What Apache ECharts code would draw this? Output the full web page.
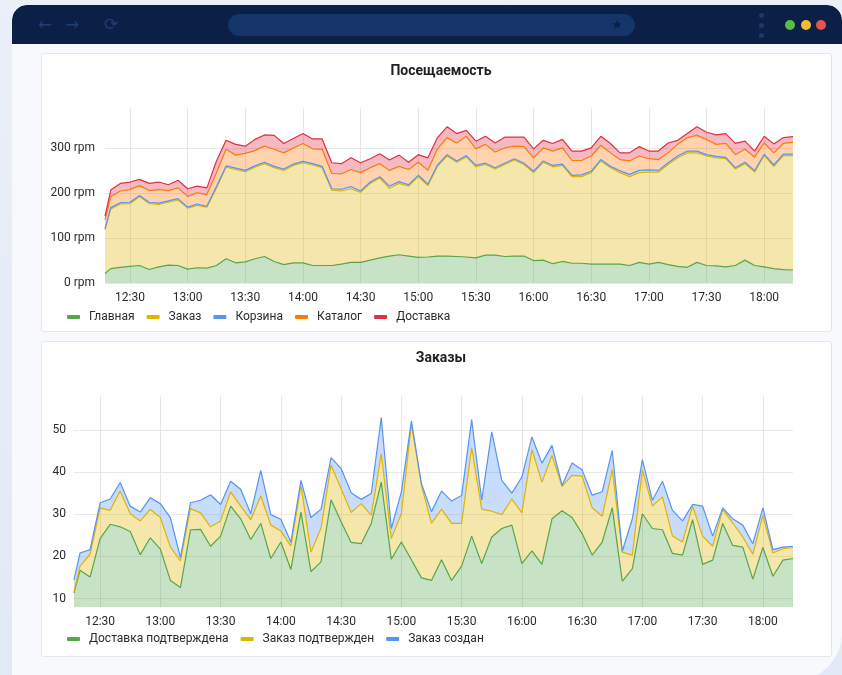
<!DOCTYPE html>
<html>
<head>
<meta charset="utf-8">
<script src="https://cdn.jsdelivr.net/npm/echarts@6/dist/echarts.min.js"></script>
<style>
  html, body { margin: 0; padding: 0; }
  body {
    width: 842px; height: 675px; overflow: hidden; position: relative;
    background: linear-gradient(180deg, #eaeff8 0%, #e2e9f6 100%);
    font-family: Roboto, "Noto Sans", sans-serif;
  }
  .win {
    position: absolute; left: 12px; top: 5px; width: 830px; height: 677px;
    background: #f7f9fc; border-radius: 15px 15px 50px 0;
    overflow: hidden;
  }
  .bar {
    position: absolute; left: 0; top: 0; right: 0; height: 39px;
    background: #0b1f47; border-radius: 15px 15px 0 0;
  }
  .nav { position: absolute; top: 9px; color: #1f3e74; font-size: 17px; line-height: 20px; font-family: "DejaVu Sans", sans-serif; }
  .url {
    position: absolute; left: 216px; top: 9px; width: 407px; height: 22px;
    background: #15346a; border-radius: 11px;
  }
  .star { position: absolute; right: 12px; top: 3px; color: #0b1f47; font-size: 13px; line-height: 16px; font-family: "DejaVu Sans", sans-serif; }
  .menu { position: absolute; left: 747px; width: 5px; height: 5px; border-radius: 50%; background: #1c3a6b; }
  .dot { position: absolute; top: 15px; width: 10px; height: 10px; border-radius: 50%; }
  .panel {
    position: absolute; left: 41px; width: 789px; background: #fff;
    border: 1px solid #e3e6ea; border-radius: 3px;
  }
  #chart { position: absolute; left: 0; top: 0; width: 842px; height: 675px; }
</style>
</head>
<body>
<div class="win">
  <div class="bar">
    <span class="nav" style="left:26px">&#8592;</span>
    <span class="nav" style="left:53px">&#8594;</span>
    <span class="nav" style="left:92px">&#10227;</span>
    <div class="url"><span class="star">&#9733;</span></div>
    <div class="menu" style="top:8px"></div>
    <div class="menu" style="top:18px"></div>
    <div class="menu" style="top:28px"></div>
    <div class="dot" style="left:773px;background:#5cba45"></div>
    <div class="dot" style="left:789px;background:#f6bb2f"></div>
    <div class="dot" style="left:804px;background:#e9534f"></div>
  </div>
</div>
<div class="panel" style="top:53px;height:277px"></div>
<div class="panel" style="top:341px;height:314px"></div>
<div id="chart"></div>
<script>
// time of each sample (5 min step)
const times = ['12:17','12:20','12:25','12:30','12:35','12:40','12:45','12:50','12:55',
  '13:00','13:05','13:10','13:15','13:20','13:25','13:30','13:35','13:40','13:45','13:50','13:55',
  '14:00','14:05','14:10','14:15','14:20','14:25','14:30','14:35','14:40','14:45','14:50','14:55',
  '15:00','15:05','15:10','15:15','15:20','15:25','15:30','15:35','15:40','15:45','15:50','15:55',
  '16:00','16:05','16:10','16:15','16:20','16:25','16:30','16:35','16:40','16:45','16:50','16:55',
  '17:00','17:05','17:10','17:15','17:20','17:25','17:30','17:35','17:40','17:45','17:50','17:55',
  '18:00','18:05','18:10','18:15']
const tickLabels = ['12:30','13:00','13:30','14:00','14:30','15:00','15:30','16:00','16:30','17:00','17:30','18:00']

// Посещаемость, rpm
const glavnaya = [21,32,35,37,39,30,36,40,39,31, 34,33,39,54,45,47,54,59,48,41,
  45,45,39,39,39,42,46,46,51,56, 60,63,60,57,58,60,60,59,58,56, 62,62,59,60,60,50,51,43,48,44,
  44,42,42,42,42,39,46,42,46,41, 37,35,46,39,38,36,39,51,39,36, 32,30,29]
const zakaz = [98,133,141,140,153,147,139,140,146,136, 139,136,173,204,208,201,204,207,209,210,
  217,223,224,218,168,163,164,156,171,178, 151,159,156,180,159,200,223,210,223,203,
  202,192,205,214,204,196,218,216,214,193, 193,204,230,215,204,198,200,205,201,223,
  242,255,244,244,241,241,215,215,208,248, 228,254,255]
const korzina = [2,3,3,3,3,3,3,3,3,2, 3,2,3,3,3,3,3,3,3,3, 3,3,3,3,3,4,5,3,3,3,
  5,4,3,3,3,3,3,3,3,3, 3,3,3,3,3,3,3,3,3,3, 4,3,3,3,4,5,5,5,4,4, 4,4,4,3,3,3,3,3,3,3, 3,3,3]
const katalog = [20,24,26,28,22,26,30,23,24,24, 25,26,31,37,29,38,34,36,38,36,
  36,40,33,38,34,34,38,41,32,29, 35,34,34,29,31,36,38,40,43,37, 42,35,34,28,37,30,29,32,36,33,
  32,34,32,30,25,30,32,25,24,22, 26,30,35,34,27,31,29,29,31,25, 27,24,27]
const dostavka = [8,15,17,17,14,16,17,13,17,17, 15,15,26,20,24,16,25,25,31,21,
  21,22,22,23,24,23,26,22,20,22, 23,25,16,17,28,25,24,21,13,17, 18,20,24,20,21,20,17,17,19,21,
  21,18,20,21,15,18,21,17,19,22, 9,9,19,16,21,22,25,18,13,15, 20,13,12]

// Заказы
const dostPodtv = [11.3,16.7,15.1,24.2,27.6,27.0,25.9,20.4,24.4,21.7, 14.3,12.6,26.3,26.4,22.4,24.8,31.9,28.9,24.0,27.8,
  19.5,23.4,16.9,30.5,16.4,18.7,33.4,28.2,23.3,23.0, 27.8,37.6,19.3,23.4,19.2,14.9,14.3,19.2,14.3,17.7,
  24.8,18.3,24.6,26.6,27.4,18.3,21.3,18.1,28.9,30.8, 29.2,25.4,20.3,23.4,31.5,14.1,17.1,30.1,26.6,26.3,
  20.7,20.3,28.7,18.1,19.1,27.8,22.6,22.2,14.6,22.1, 15.3,19.1,19.5]
const zakazPodtv = [0.3,1.0,5.4,7.3,3.3,8.5,4.2,8.0,6.7,7.5, 7.9,6.3,5.0,3.9,4.6,3.6,3.4,3.0,4.7,6.5,
  7.9,2.6,5.6,6.3,4.6,8.0,8.2,7.8,7.1,9.5, 1.9,6.7,4.9,6.7,32.1,21.9,13.5,12.0,13.5,10.1,
  21.0,12.9,6.1,3.3,6.2,12.0,24.0,19.5,15.0,5.8, 10.0,13.6,11.2,6.1,9.0,6.9,3.2,10.4,5.3,7.8,
  4.1,3.1,3.2,6.7,3.3,3.3,5.3,2.4,5.9,7.6, 5.5,2.7,2.6]
const zakazSozdan = [2.8,3.1,1.1,1.2,2.7,2.0,1.8,2.1,2.8,3.3, 7.0,0.8,1.4,3.0,7.6,3.9,2.5,4.0,1.4,6.1,
  2.5,2.8,0.9,1.2,8.2,4.5,1.8,4.8,4.7,1.0, 5.2,8.6,2.4,5.2,0.8,0.4,2.8,4.3,5.3,6.6,
  6.6,2.1,18.8,8.1,1.4,8.5,3.0,4.5,2.4,0.2, 2.9,1.5,3.0,5.8,4.6,0.2,8.6,2.4,1.4,3.7,
  6.1,5.0,0.4,7.1,2.4,0.4,1.0,2.8,2.5,1.8, 0.8,0.4,0.3]

const rpmTicks = [0, 100, 200, 300]
const orderTicks = [10, 20, 30, 40, 50]

const font = 'Roboto, "Noto Sans", sans-serif'
// minutes since midnight
const toMin = s => { const p = s.split(':'); return +p[0] * 60 + +p[1] }
const fmtTime = v => Math.floor(v / 60) + ':' + String(Math.round(v % 60)).padStart(2, '0')
const xs = times.map(toMin)
const tickX = tickLabels.map(toMin)

function xAxis(gi) {
  return {
    type: 'value', gridIndex: gi, min: xs[0], max: xs[xs.length - 1],
    axisLine: { show: false },
    axisTick: { show: false, customValues: tickX },
    axisLabel: { customValues: tickX, formatter: fmtTime, color: '#2b2b2b', fontSize: 12, fontFamily: font, margin: 9 },
    splitLine: { show: true, lineStyle: { color: '#e6e6e6', width: 1 } }
  }
}
function yAxis(gi, min, max, ticks, fmt, margin) {
  return {
    type: 'value', gridIndex: gi, min: min, max: max,
    axisLine: { show: false },
    axisTick: { show: false, customValues: ticks },
    axisLabel: { customValues: ticks, formatter: fmt, color: '#2b2b2b', fontSize: 12, fontFamily: font, margin: margin },
    splitLine: { show: true, lineStyle: { color: '#e9e9e9', width: 1 } }
  }
}
function area(name, vals, color, gi) {
  return {
    name: name, type: 'line', xAxisIndex: gi, yAxisIndex: gi, stack: 'g' + gi,
    // value first, time second: the first numeric column is the one stacked
    encode: { x: 1, y: 0 },
    symbol: 'none', data: xs.map((x, i) => [vals[i], x]),
    lineStyle: { width: 1.2, color: color }, itemStyle: { color: color },
    areaStyle: { color: color, opacity: 0.33 },
    emphasis: { disabled: true }
  }
}
const legendBase = {
  icon: 'roundRect', itemWidth: 13, itemHeight: 4, itemGap: 12, padding: 0,
  selectedMode: false,
  textStyle: { color: '#2b2b2b', fontSize: 12, fontFamily: font, padding: [0, 0, 0, 4] }
}

const chart = echarts.init(document.getElementById('chart'), null, { renderer: 'canvas' })
chart.setOption({
  animation: false,
  title: [
    { text: 'Посещаемость', left: 436, top: 59, textAlign: 'center',
      textStyle: { fontSize: 14, fontWeight: 'bold', color: '#222', fontFamily: font } },
    { text: 'Заказы', left: 436, top: 346, textAlign: 'center',
      textStyle: { fontSize: 14, fontWeight: 'bold', color: '#222', fontFamily: font } }
  ],
  legend: [
    Object.assign({}, legendBase, { left: 67, top: 311, data: ['Главная', 'Заказ', 'Корзина', 'Каталог', 'Доставка'] }),
    Object.assign({}, legendBase, { left: 67, top: 633, data: ['Доставка подтверждена', 'Заказ подтвержден', 'Заказ создан'] })
  ],
  grid: [
    { left: 105, right: 49, top: 108, bottom: 392 },
    { left: 74, right: 49, top: 396, bottom: 68 }
  ],
  xAxis: [xAxis(0), xAxis(1)],
  yAxis: [
    yAxis(0, 0, 390, rpmTicks, '{value} rpm', 10),
    yAxis(1, 8, 58, orderTicks, '{value}', 8)
  ],
  series: [
    area('Главная', glavnaya, '#56A64B', 0),
    area('Заказ', zakaz, '#E0B400', 0),
    area('Корзина', korzina, '#5794F2', 0),
    area('Каталог', katalog, '#FF780A', 0),
    area('Доставка', dostavka, '#E02F44', 0),
    area('Доставка подтверждена', dostPodtv, '#56A64B', 1),
    area('Заказ подтвержден', zakazPodtv, '#E0B400', 1),
    area('Заказ создан', zakazSozdan, '#5794F2', 1)
  ]
})
</script>
</body>
</html>
